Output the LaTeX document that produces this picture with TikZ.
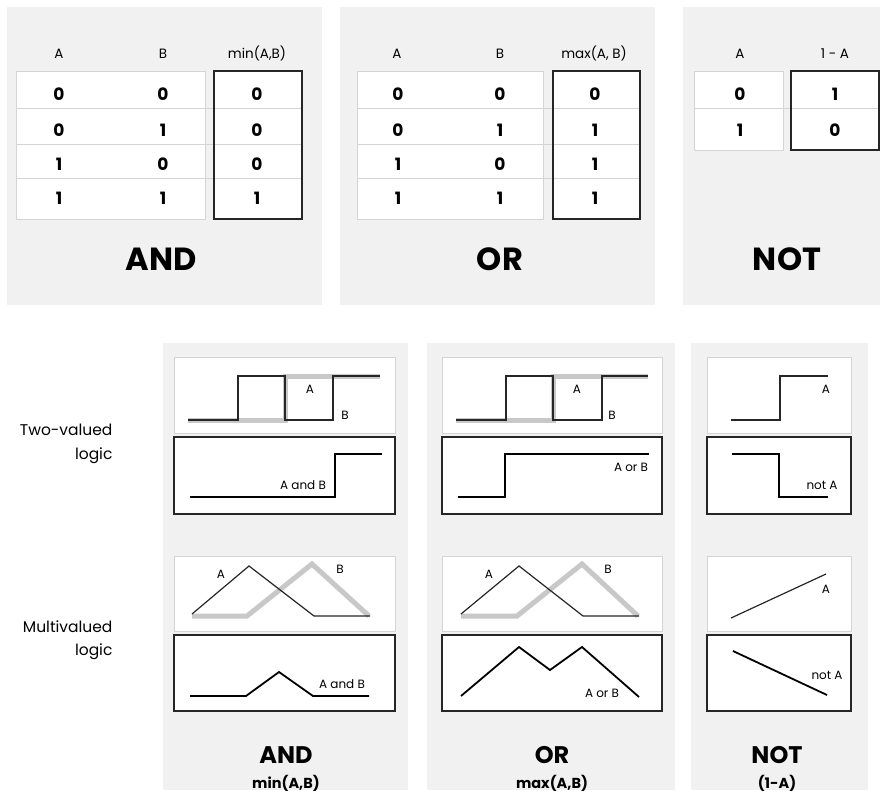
\documentclass[tikz,border=0pt]{standalone}
\usepackage{fontspec}
\setmainfont{Poppins}
\definecolor{panelgray}{RGB}{241,241,241}
\definecolor{rulegray}{RGB}{212,212,212}
\definecolor{curvegray}{RGB}{200,200,200}

\tikzset{
  panel/.style={fill=panelgray},
  lightbox/.style={draw=rulegray, fill=white, line width=1pt},
  darkbox/.style={draw=black!85, line width=1.2pt},
  rowline/.style={draw=rulegray, line width=1pt},
  head/.style={anchor=base, font=\fontsize{13.5}{13}\selectfont},
  val/.style={anchor=base, font=\bfseries\fontsize{17}{17}\selectfont},
  bigtitle/.style={anchor=base, font=\bfseries\fontsize{32}{32}\selectfont},
  subtitle/.style={anchor=base, font=\bfseries\fontsize{24}{24}\selectfont},
  formula/.style={anchor=base, font=\bfseries\fontsize{14.5}{14}\selectfont},
  curvelabel/.style={anchor=base, font=\fontsize{12}{12}\selectfont},
  sidelabel/.style={anchor=base east, font=\fontsize{15.5}{16}\selectfont},
  thin curve/.style={draw=black!85, line width=1.2pt},
  thick curve/.style={draw=black, line width=2.4pt},
  gray curve/.style={draw=curvegray, line width=5pt},
}

\begin{document}
\begin{tikzpicture}[x=1pt, y=-1pt]
  \useasboundingbox (0,0) rectangle (883,798);

  % truth tables
  \fill[panel] (7,7) rectangle (322,305);
  \fill[panel] (340,7) rectangle (655,305);
  \fill[panel] (683,7) rectangle (880,305);

  % AND table
  \filldraw[lightbox] (16,71) rectangle (205,219);
  \fill[white] (214,71) rectangle (302,219);
  \draw[rowline] (16,108) -- (302,108);
  \draw[rowline] (16,144) -- (302,144);
  \draw[rowline] (16,178) -- (302,178);
  \draw[darkbox] (214,71) rectangle (302,219);

  \node[head] (andA) at (59,58) {A};
  \node[head] (andB) at (163,58) {B};
  \node[head] (andF) at (257,58) {min(A,B)};
  \node[val] (and1a) at (59,100) {0};
  \node[val] (and1b) at (163,100) {0};
  \node[val] (and1f) at (257,100) {0};
  \node[val] (and2a) at (59,136) {0};
  \node[val] (and2b) at (163,136) {1};
  \node[val] (and2f) at (257,136) {0};
  \node[val] (and3a) at (59,170) {1};
  \node[val] (and3b) at (163,170) {0};
  \node[val] (and3f) at (257,170) {0};
  \node[val] (and4a) at (59,204) {1};
  \node[val] (and4b) at (163,204) {1};
  \node[val] (and4f) at (257,204) {1};
  \node[bigtitle] (andT) at (161,270) {AND};

  % OR table
  \filldraw[lightbox] (357,71) rectangle (543,219);
  \fill[white] (553,71) rectangle (640,219);
  \draw[rowline] (357,108) -- (640,108);
  \draw[rowline] (357,144) -- (640,144);
  \draw[rowline] (357,178) -- (640,178);
  \draw[darkbox] (553,71) rectangle (640,219);

  \node[head] (orA) at (397,58) {A};
  \node[head] (orB) at (500,58) {B};
  \node[head] (orF) at (594,58) {max(A, B)};
  \node[val] (or1a) at (398,100) {0};
  \node[val] (or1b) at (500,100) {0};
  \node[val] (or1f) at (595,100) {0};
  \node[val] (or2a) at (398,136) {0};
  \node[val] (or2b) at (500,136) {1};
  \node[val] (or2f) at (595,136) {1};
  \node[val] (or3a) at (398,170) {1};
  \node[val] (or3b) at (500,170) {0};
  \node[val] (or3f) at (595,170) {1};
  \node[val] (or4a) at (398,204) {1};
  \node[val] (or4b) at (500,204) {1};
  \node[val] (or4f) at (595,204) {1};
  \node[bigtitle] (orT) at (500,270) {OR};

  % NOT table
  \filldraw[lightbox] (694,71) rectangle (783,150);
  \fill[white] (791,71) rectangle (879,150);
  \draw[rowline] (694,108) -- (879,108);
  \draw[darkbox] (791,71) rectangle (879,150);

  \node[head] (notA) at (740,58) {A};
  \node[head] (notF) at (835,58) {1 - A};
  \node[val] (not1a) at (740,100) {0};
  \node[val] (not1f) at (835,100) {1};
  \node[val] (not2a) at (740,136) {1};
  \node[val] (not2f) at (835,136) {0};
  \node[bigtitle] (notT) at (787,270) {NOT};

  % row labels
  \node[sidelabel] (twoA) at (116,435) {Two-valued};
  \node[sidelabel] (twoB) at (116,459) {logic};
  \node[sidelabel] (multiA) at (116,632) {Multivalued};
  \node[sidelabel] (multiB) at (116,655) {logic};

  % curve panels
  \fill[panel] (163,343) rectangle (408,790);
  \fill[panel] (427,343) rectangle (675,790);
  \fill[panel] (691,343) rectangle (868,790);

  % AND, two-valued
  \filldraw[lightbox] (174,357) rectangle (395,433);
  \draw[gray curve] (188,420) -- (285,420) -- (285,376) -- (380,376);
  \draw[thin curve] (188,420) -- (238,420) -- (238,376) -- (285,376)
    -- (285,420) -- (333,420) -- (333,376) -- (380,376);
  \node[curvelabel] (andtA) at (310,393) {A};
  \node[curvelabel] (andtB) at (345,419) {B};
  \filldraw[darkbox, fill=white] (174,437) rectangle (395,514);
  \draw[thick curve] (190,497) -- (335,497) -- (335,454) -- (382,454);
  \node[curvelabel] (andtAB) at (303,489) {A and B};

  % OR, two-valued
  \filldraw[lightbox] (442,357) rectangle (662,433);
  \draw[gray curve] (456,420) -- (553,420) -- (553,376) -- (648,376);
  \draw[thin curve] (456,420) -- (506,420) -- (506,376) -- (553,376)
    -- (553,420) -- (602,420) -- (602,376) -- (648,376);
  \node[curvelabel] (ortA) at (577,393) {A};
  \node[curvelabel] (ortB) at (612,419) {B};
  \filldraw[darkbox, fill=white] (442,437) rectangle (662,514);
  \draw[thick curve] (458,497) -- (505,497) -- (505,454) -- (649,454);
  \node[curvelabel] (ortAB) at (631,471) {A or B};

  % NOT, two-valued
  \filldraw[lightbox] (707,357) rectangle (851,433);
  \draw[thin curve] (731,420) -- (780,420) -- (780,376) -- (828,376);
  \node[curvelabel] (nottA) at (826,393) {A};
  \filldraw[darkbox, fill=white] (707,437) rectangle (851,514);
  \draw[thick curve] (732,454) -- (779,454) -- (779,497) -- (828,497);
  \node[curvelabel] (nottNA) at (822,489) {not A};

  % AND, multivalued
  \filldraw[lightbox] (174,556) rectangle (395,631);
  \draw[gray curve] (192,616) -- (247,616) -- (312,564) -- (369,616);
  \draw[thin curve] (192,614) -- (249,566) -- (314,616) -- (370,616);
  \node[curvelabel] (andmA) at (221,578) {A};
  \node[curvelabel] (andmB) at (340,573) {B};
  \filldraw[darkbox, fill=white] (174,635) rectangle (395,711);
  \draw[thick curve, line width=1.8pt] (190,696) -- (246,696) -- (279,672) -- (313,696) -- (369,696);
  \node[curvelabel] (andmAB) at (342,688) {A and B};
  \node[subtitle] (andS) at (286,763) {AND};
  \node[formula] (andM) at (286,788) {min(A,B)};

  % OR, multivalued
  \filldraw[lightbox] (442,556) rectangle (662,631);
  \draw[gray curve] (461,616) -- (517,616) -- (582,564) -- (638,616);
  \draw[thin curve] (461,614) -- (519,566) -- (583,616) -- (639,616);
  \node[curvelabel] (ormA) at (489,578) {A};
  \node[curvelabel] (ormB) at (608,573) {B};
  \filldraw[darkbox, fill=white] (442,635) rectangle (662,711);
  \draw[thick curve, line width=1.8pt] (461,696) -- (519,647) -- (550,670) -- (582,647) -- (639,697);
  \node[curvelabel] (ormAB) at (602,697) {A or B};
  \node[subtitle] (orS) at (552,763) {OR};
  \node[formula] (orM) at (552,788) {max(A,B)};

  % NOT, multivalued
  \filldraw[lightbox] (707,556) rectangle (851,631);
  \draw[thin curve] (731,618) -- (826,574);
  \node[curvelabel] (notmA) at (826,593) {A};
  \filldraw[darkbox, fill=white] (707,635) rectangle (851,711);
  \draw[thick curve, line width=1.8pt] (733,651) -- (827,695);
  \node[curvelabel] (notmNA) at (827,679) {not A};
  \node[subtitle] (notS) at (777,763) {NOT};
  \node[formula] (notM) at (777,788) {(1-A)};
\end{tikzpicture}
\end{document}
